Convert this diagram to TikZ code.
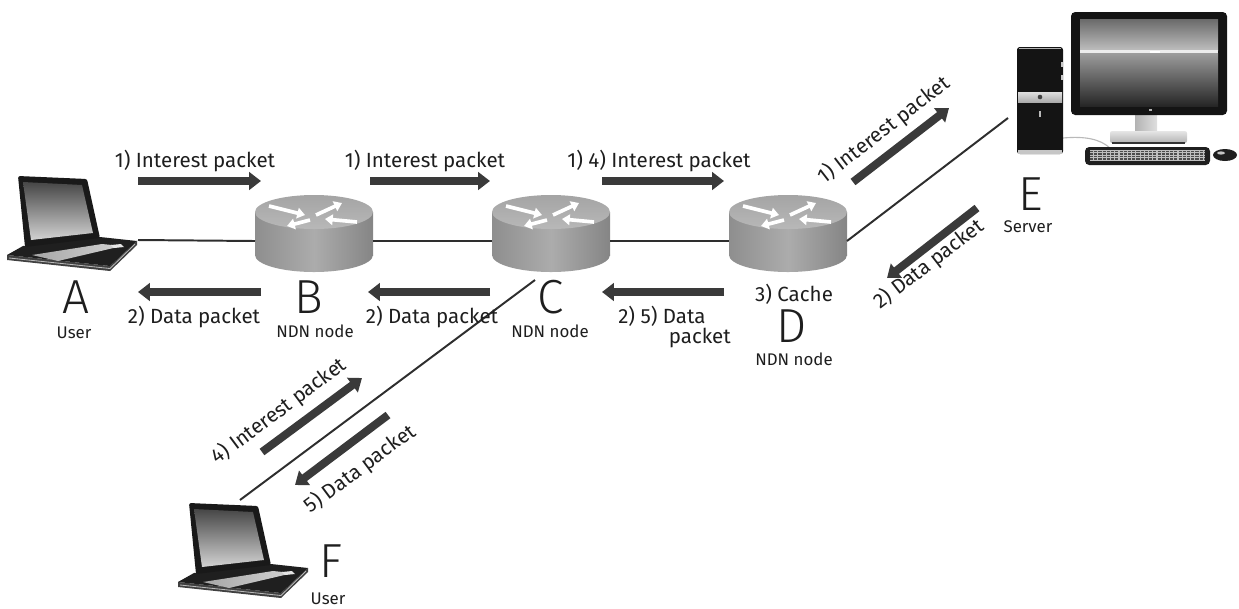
\documentclass[tikz,border=0pt]{standalone}
\usepackage{fontspec}
\setmainfont{Fira Sans}
\newfontfamily\thinfont{Fira Sans Light}
\usetikzlibrary{arrows.meta}

\definecolor{ink}{HTML}{1E1E1E}
\definecolor{pktgray}{HTML}{3A3A3A}
\definecolor{wire}{HTML}{2E2E2E}
\definecolor{rtop}{HTML}{B8B8B8}
\definecolor{rtopdark}{HTML}{A4A4A4}
\definecolor{rbodyL}{HTML}{8E8E8E}
\definecolor{rbodyM}{HTML}{ACACAC}
\definecolor{rbodyR}{HTML}{858585}
\definecolor{scrtop}{HTML}{6A6A6A}
\definecolor{scrmid}{HTML}{BDBDBD}
\definecolor{scrlow}{HTML}{9C9C9C}
\definecolor{scrbot}{HTML}{262626}

\tikzset{
  labeltext/.style={font=\fontsize{14.6}{17}\selectfont, text=ink, inner sep=0pt},
  smalltext/.style={font=\fontsize{12}{14}\selectfont, text=ink, inner sep=0pt},
  bigletter/.style={font=\thinfont\fontsize{34}{36}\selectfont, text=ink, inner sep=0pt},
  packet/.style={draw=pktgray, line width=5.7pt, -{Triangle[length=8.5pt,width=12.5pt]}},
  link/.style={draw=wire, line width=1.4pt},
  rarrow/.style={draw=white, line width=2.6pt, -{Triangle[length=5.5pt,width=7.5pt]}},
  % router: origin is the centre of the top face
  pics/router/.style={code={
    \shade[left color=rbodyL, right color=rbodyR, middle color=rbodyM] (-59,0) rectangle (59,43);
    \shade[left color=rbodyL, right color=rbodyR, middle color=rbodyM] (0,43) ellipse [x radius=59, y radius=17];
    \shade[top color=rtopdark, bottom color=rtop] (0,0) ellipse [x radius=59, y radius=17];
    \draw[rarrow] (-45,-6) -- (-9,3);
    \draw[rarrow] (2,3) -- (28,-9);
    \draw[rarrow] (43,10) -- (11,7);
    \draw[rarrow] (-4,8) -- (-27,14);
    \coordinate (-w) at (-59,29);
    \coordinate (-e) at (59,29);
    \coordinate (-sw) at (-16,68);
  }},
  % laptop: origin is the top left corner of the lid
  pics/laptop/.style={code={
    \fill[black!75] (-11,79) -- (92,90) -- (119,65) -- (119,69) -- (92,95) -- (-11,84) -- cycle;
    \draw[gray!55, line width=0.6pt] (-9,82) -- (92,92.5) -- (117,68);
    \fill[black!88] (-11,79) -- (5,70) -- (82,61) -- (119,65) -- (92,90) -- cycle;
    \shade[left color=gray!70, right color=gray!35] (14,79) -- (84,68) -- (104,70) -- (40,85) -- cycle;
    \fill[gray!20] (93,69) -- (103,68) -- (106,71) -- (96,72) -- cycle;
    \fill[black!90, rounded corners=1.5] (0,0) -- (69,3) -- (82,62) -- (7,71) -- cycle;
    \shade[top color=gray!55!black, bottom color=gray!35] (5,6) -- (64,9) -- (75,57) -- (13,64) -- cycle;
    \coordinate (-port) at (120,64);
    \coordinate (-top) at (51,-3);
  }},
}

\begin{document}
\begin{tikzpicture}[x=0.025cm, y=-0.025cm]
\useasboundingbox (0,0) rectangle (1239,608);

% ---------- devices ----------
\pic (lapA) at (18,176) {laptop};
\pic (lapF) at (189,503) {laptop};
\pic (rB) at (314,212) {router};
\pic (rC) at (551,212) {router};
\pic (rD) at (788,212) {router};

% server: tower, monitor, keyboard and mouse
\begin{scope}
  \coordinate (srv-port) at (1008,118);
  % cable
  \draw[gray!55, line width=0.8pt] (1063,138) .. controls (1085,136) and (1100,139) .. (1110,148);
  % tower
  \fill[black!92, rounded corners=2] (1017,47) rectangle (1063,154);
  \draw[gray!60, line width=0.6pt] (1019,48) -- (1061,48);
  \fill[gray!45] (1018,150) rectangle (1062,154);
  \fill[gray!45] (1061,62) rectangle (1063,67);
  \fill[gray!45] (1061,75) rectangle (1063,80);
  \shade[top color=gray!25, bottom color=gray!65] (1018,92) rectangle (1062,102);
  \fill[black!75] (1040,97) circle (2.3);
  \fill[gray!55] (1039.3,111) rectangle (1040.7,117);
  % monitor stand
  \shade[left color=gray!60, right color=gray!25] (1135,113) rectangle (1157,133);
  \shade[top color=gray!20, bottom color=gray!60, rounded corners=1.5] (1110,131) rectangle (1187,143);
  \fill[black!80] (1112,142) rectangle (1185,144);
  % monitor
  \fill[black!92, rounded corners=3] (1071,12) rectangle (1227,115);
  \shade[top color=scrtop, bottom color=scrmid] (1080,19) rectangle (1218,50);
  \fill[gray!15] (1080,50) rectangle (1218,53);
  \fill[white] (1150,50.5) rectangle (1160,52.5);
  \shade[top color=scrlow, bottom color=scrbot] (1080,53) rectangle (1218,106);
  \fill[gray!60] (1149,109) rectangle (1152,111);
  % keyboard
  \fill[black!88, rounded corners=3] (1085,147) rectangle (1210,165);
  \fill[gray!50] (1090,150) rectangle (1205,161);
  \foreach \yy in {151.5,154,156.5,159}
    \draw[black!70, line width=0.9pt, dash pattern=on 2.2pt off 0.8pt] (1090,\yy) -- (1205,\yy);
  % mouse
  \fill[black!88] (1225,155) ellipse [x radius=12, y radius=6];
  \fill[gray!45] (1221,153) ellipse [x radius=4, y radius=1.6];
\end{scope}

% ---------- links ----------
\draw[link] (lapA-port) -- (rB-w);
\draw[link] (rB-e) -- (rC-w);
\draw[link] (rC-e) -- (rD-w);
\draw[link] (rD-e) -- (srv-port);
\draw[link] (rC-sw) -- (lapF-top);

% ---------- device labels ----------
\node[bigletter, anchor=base] (A) at (76,313) {A};
\node[smalltext, anchor=base] (Auser) at (74,338) {User};
\node[bigletter, anchor=base] (B) at (309,313) {B};
\node[smalltext, anchor=base] (Bndn) at (315,337) {NDN node};
\node[bigletter, anchor=base] (C) at (551,313) {C};
\node[smalltext, anchor=base] (Cndn) at (550,337) {NDN node};
\node[labeltext, anchor=base] (cache) at (794,301) {3) Cache};
\node[bigletter, anchor=base] (D) at (792,342) {D};
\node[smalltext, anchor=base] (Dndn) at (794,365) {NDN node};
\node[bigletter, anchor=base] (E) at (1031,210) {E};
\node[smalltext, anchor=base] (Eserver) at (1028,232) {Server};
\node[bigletter, anchor=base] (F) at (331,577) {F};
\node[smalltext, anchor=base] (Fuser) at (328,604) {User};

% ---------- packet flows along the top row ----------
\coordinate (ab1) at (138,181); \coordinate (ab2) at (261,181);
\coordinate (bc1) at (370,181); \coordinate (bc2) at (490,181);
\coordinate (cd1) at (602,181); \coordinate (cd2) at (724,181);
\draw[packet] (ab1) -- (ab2);
\draw[packet] (bc1) -- (bc2);
\draw[packet] (cd1) -- (cd2);
\node[labeltext, anchor=base] (iAB) at (195,167) {1) Interest packet};
\node[labeltext, anchor=base] (iBC) at (425,167) {1) Interest packet};
\node[labeltext, anchor=base] (iCD) at (659,167) {1) 4) Interest packet};

\coordinate (ba1) at (261,292); \coordinate (ba2) at (138,292);
\coordinate (cb1) at (490,292); \coordinate (cb2) at (368,292);
\coordinate (dc1) at (724,292); \coordinate (dc2) at (602,292);
\draw[packet] (ba1) -- (ba2);
\draw[packet] (cb1) -- (cb2);
\draw[packet] (dc1) -- (dc2);
\node[labeltext, anchor=base] (dAB) at (194,323) {2) Data packet};
\node[labeltext, anchor=base] (dBC) at (432,323) {2) Data packet};
\node[labeltext, anchor=base west, align=left] (dCD) at (618,343) {2) 5) Data\\[-3pt]\hspace*{36pt}packet};

% ---------- packet flows on the diagonal links ----------
\coordinate (de1) at (853,182); \coordinate (de2) at (949,108);
\coordinate (ed1) at (977,208); \coordinate (ed2) at (887,278);
\draw[packet] (de1) -- (de2);
\draw[packet] (ed1) -- (ed2);
\node[labeltext, rotate=37.7] (iDE) at (884,130) {1) Interest packet};
\node[labeltext, rotate=37.7] (dED) at (929,264) {2) Data packet};

\coordinate (fc1) at (262,452); \coordinate (fc2) at (362,378);
\coordinate (cf1) at (388,415); \coordinate (cf2) at (295,485);
\draw[packet] (fc1) -- (fc2);
\draw[packet] (cf1) -- (cf2);
\node[labeltext, rotate=36.7] (iFC) at (279,411) {4) Interest packet};
\node[labeltext, rotate=36.7] (dCF) at (360,469) {5) Data packet};

\end{tikzpicture}
\end{document}
